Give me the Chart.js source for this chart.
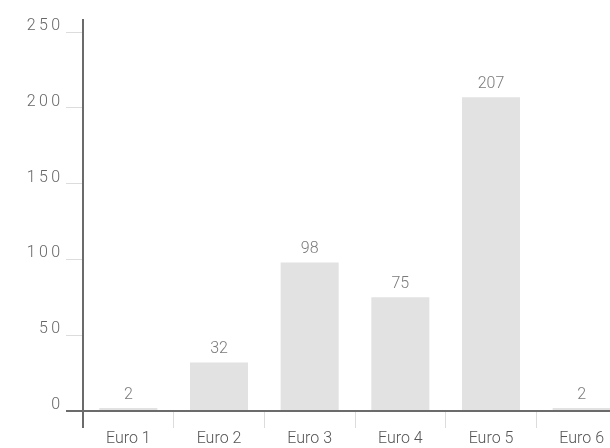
<!DOCTYPE html>
<html>
<head>
<meta charset="utf-8">
<script src="https://cdn.jsdelivr.net/npm/chart.js@4/dist/chart.umd.min.js"></script>
<style>
  html, body { margin: 0; padding: 0; background: #fff; overflow: hidden; }
  #wrap { width: 640px; height: 448px; position: relative; }
</style>
</head>
<body>
<div id="wrap"><canvas id="chart"></canvas></div>
<script>
const categories = ['Euro 1', 'Euro 2', 'Euro 3', 'Euro 4', 'Euro 5', 'Euro 6'];
const counts = [2, 32, 98, 75, 207, 2];
const yTicks = [0, 50, 100, 150, 200, 250];

// dark axis lines, a little longer than the chart area
const axisLines = {
  id: 'axisLines',
  afterDraw(chart) {
    const { ctx, chartArea: a } = chart;
    ctx.save();
    ctx.strokeStyle = '#6b6b6b';
    ctx.lineWidth = 2;
    ctx.beginPath();
    ctx.moveTo(a.left, a.top - 13);
    ctx.lineTo(a.left, a.bottom + 17);
    ctx.moveTo(a.left - 17, a.bottom);
    ctx.lineTo(a.right, a.bottom);
    ctx.stroke();
    ctx.restore();
  }
};

// value above each bar
const valueLabels = {
  id: 'valueLabels',
  afterDatasetsDraw(chart) {
    const { ctx } = chart;
    const meta = chart.getDatasetMeta(0);
    ctx.save();
    ctx.font = '300 16px Roboto';
    ctx.fillStyle = '#7a7a7a';
    ctx.textAlign = 'center';
    ctx.textBaseline = 'bottom';
    meta.data.forEach((bar, i) => {
      ctx.fillText(String(counts[i]), bar.x, bar.y - 5);
    });
    ctx.restore();
  }
};

new Chart(document.getElementById('chart'), {
  type: 'bar',
  data: {
    labels: categories,
    datasets: [{
      data: counts,
      backgroundColor: '#e2e2e2',
      categoryPercentage: 1,
      barPercentage: 0.64
    }]
  },
  options: {
    responsive: true,
    maintainAspectRatio: false,
    animation: false,
    layout: { padding: { top: 32, right: 13, left: 0, bottom: 0 } },
    plugins: { legend: { display: false }, tooltip: { enabled: false } },
    scales: {
      x: {
        offset: true,
        border: { display: false },
        grid: { drawOnChartArea: false, tickLength: 17, color: '#dcdcdc', offset: true },
        ticks: { color: '#555', font: { family: 'Roboto', size: 16, weight: 300 }, padding: 1 },
        afterFit(scale) { scale.height = 37; }
      },
      y: {
        min: 0,
        max: 250,
        afterBuildTicks(scale) { scale.ticks = yTicks.map(v => ({ value: v })); },
        border: { display: false },
        grid: { drawOnChartArea: false, tickLength: 17, color: '#dcdcdc' },
        ticks: {
          color: '#666',
          font: { family: 'Roboto', size: 16, weight: 300 },
          padding: 6,
          labelOffset: -6,
          callback: v => String(v).split('').join('\u2009')
        },
        afterFit(scale) { scale.width = 83; }
      }
    }
  },
  plugins: [axisLines, valueLabels]
});
</script>
</body>
</html>
